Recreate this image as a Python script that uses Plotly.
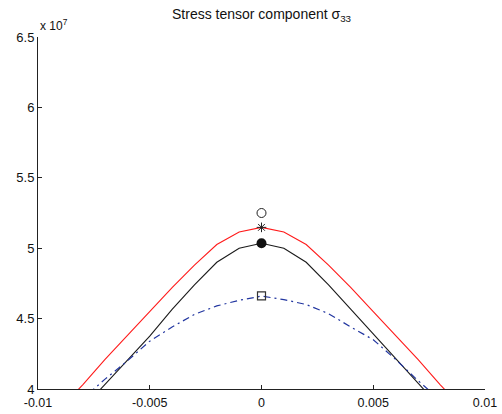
import plotly.graph_objects as go

x = [-0.010, -0.009, -0.008, -0.007, -0.006, -0.005, -0.004, -0.003, -0.002, -0.001, 0.0,
     0.001, 0.002, 0.003, 0.004, 0.005, 0.006, 0.007, 0.008, 0.009, 0.010]

# values in units of 1e7
red = [3.69, 3.86, 4.03, 4.21, 4.38, 4.55, 4.72, 4.88, 5.026, 5.115, 5.148,
       5.115, 5.026, 4.88, 4.72, 4.55, 4.38, 4.21, 4.03, 3.86, 3.69]
black = [3.52, 3.69, 3.86, 4.03, 4.205, 4.375, 4.565, 4.74, 4.90, 5.00, 5.035,
         5.00, 4.90, 4.74, 4.565, 4.39, 4.215, 4.04, 3.865, 3.69, 3.52]
blue = [3.65, 3.79, 3.93, 4.07, 4.20, 4.34, 4.44, 4.53, 4.59, 4.63, 4.66,
        4.635, 4.60, 4.535, 4.44, 4.35, 4.21, 4.06, 3.92, 3.78, 3.64]

marker_x = [0.0, 0.0, 0.0, 0.0]
marker_y = [5.25, 5.148, 5.035, 4.661]

yticks = [4, 4.5, 5, 5.5, 6, 6.5]
yticklabels = ["4", "4.5", "5", "5.5", "6", "6.5"]
xticks = [-0.01, -0.005, 0, 0.005, 0.01]
xticklabels = ["-0.01", "-0.005", "0", "0.005", "0.01"]

fig = go.Figure()
fig.add_trace(go.Scatter(x=x, y=red, mode="lines", line=dict(color="#ff1a1a", width=1.1)))
fig.add_trace(go.Scatter(x=x, y=black, mode="lines", line=dict(color="#1a1a1a", width=1.1)))
fig.add_trace(go.Scatter(x=x, y=blue, mode="lines",
                         line=dict(color="#2236a0", width=1.2, dash="7px,4px,2px,4px")))
fig.add_trace(go.Scatter(x=[marker_x[0]], y=[marker_y[0]], mode="markers",
                         marker=dict(symbol="circle-open", size=9, color="#222", line=dict(width=1))))
fig.add_trace(go.Scatter(x=[marker_x[1]], y=[marker_y[1]], mode="markers",
                         marker=dict(symbol="asterisk-open", size=8, color="#222", line=dict(width=1, color="#222"))))
fig.add_trace(go.Scatter(x=[marker_x[2]], y=[marker_y[2]], mode="markers",
                         marker=dict(symbol="circle", size=10, color="#111")))
fig.add_trace(go.Scatter(x=[marker_x[3]], y=[marker_y[3]], mode="markers",
                         marker=dict(symbol="square-open", size=8, color="#333", line=dict(width=1.2))))

font = dict(family="Liberation Sans, Arial, Helvetica, sans-serif", size=12, color="#111")

fig.update_layout(
    width=502, height=414,
    margin=dict(l=38, r=17, t=37, b=25, autoexpand=False),
    paper_bgcolor="white", plot_bgcolor="white",
    showlegend=False,
    font=font,
    xaxis=dict(range=[-0.01, 0.01], tickvals=xticks, ticktext=xticklabels, automargin=False,
               showgrid=False, zeroline=False, showline=True, linecolor="#222", linewidth=1,
               ticks="inside", ticklen=4, tickcolor="#222", mirror=False,
               ticklabelstandoff=2, tickfont=dict(size=12.5)),
    yaxis=dict(range=[4, 6.5], tickvals=yticks, ticktext=yticklabels, automargin=False,
               showgrid=False, zeroline=False, showline=True, linecolor="#222", linewidth=1,
               ticks="inside", ticklen=4, tickcolor="#222", mirror=False,
               tickfont=dict(size=13)),
)

fig.add_annotation(text="Stress tensor component σ<sub>33</sub>", xref="x", yref="paper",
                   x=0, y=1.0, xanchor="center", yanchor="bottom", yshift=11, showarrow=False,
                   font=dict(family=font["family"], size=14, color="#111"))
fig.add_annotation(text="x 10<sup>7</sup>", xref="paper", yref="paper", x=0.0, y=1.0,
                   xanchor="left", yanchor="bottom", showarrow=False, xshift=0, yshift=2,
                   font=dict(family=font["family"], size=12, color="#111"))

fig.write_html("out.html")
